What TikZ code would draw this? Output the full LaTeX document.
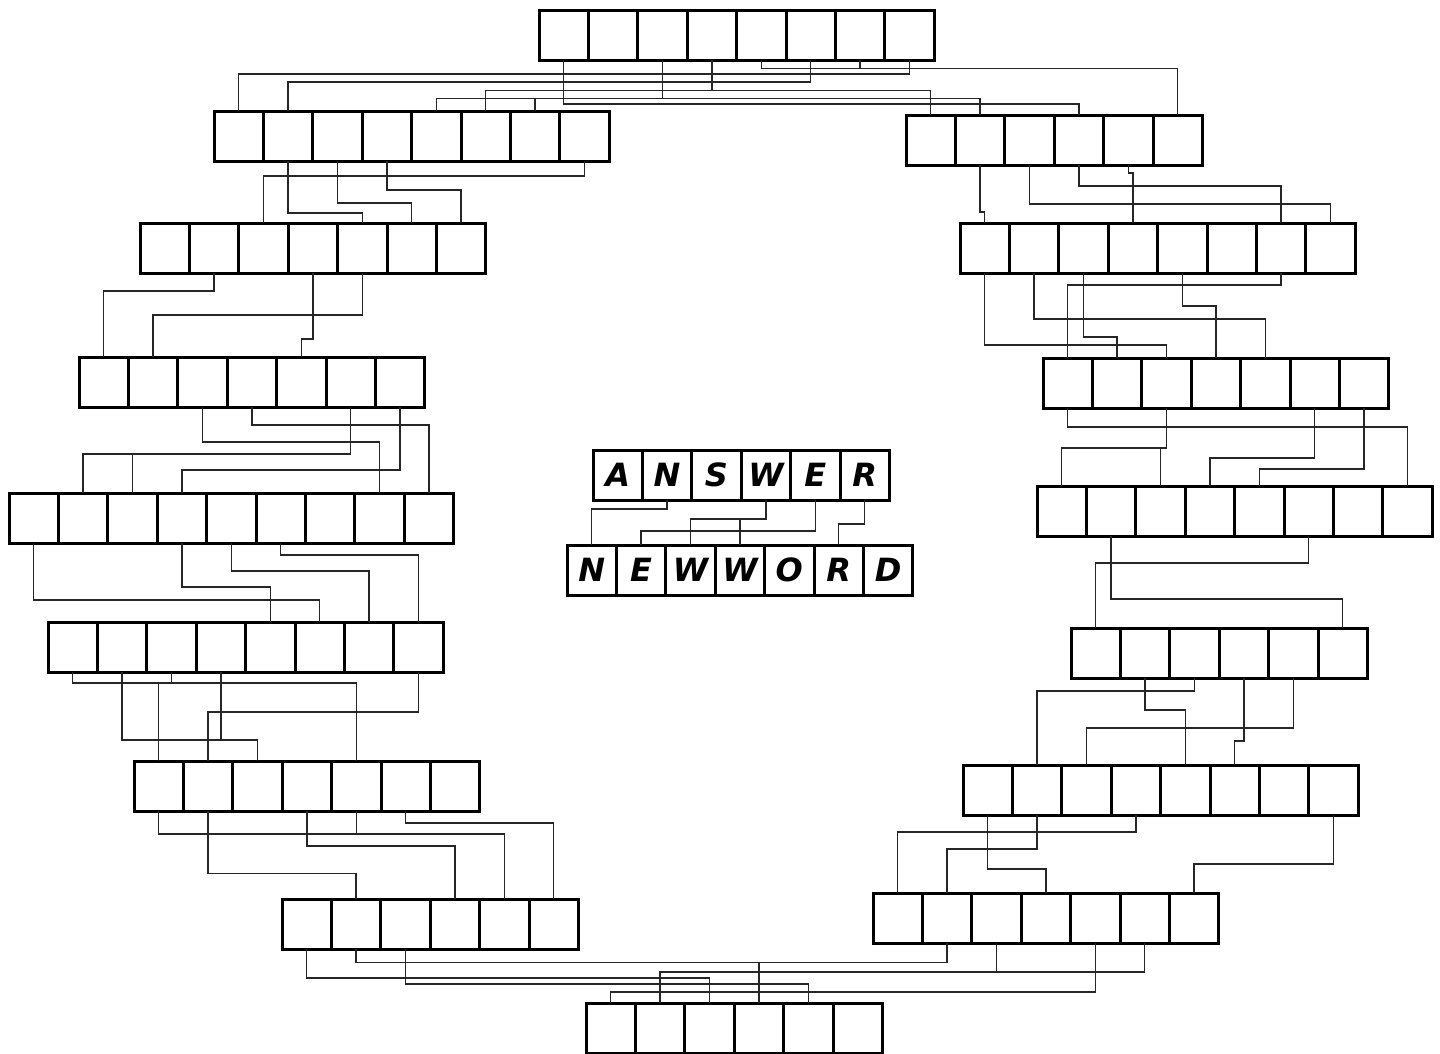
\documentclass[tikz,border=0pt]{standalone}
\usepackage{fontspec}
\newfontfamily\markfont{DejaVu Sans}
\tikzset{
  cell/.style={draw=black, line width=3pt, minimum width=49.4pt, minimum height=50pt, inner sep=0pt, outer sep=0pt, fill=white},
  lettercell/.style={cell, font=\markfont\bfseries\itshape\fontsize{32}{32}\selectfont},
  wire/.style={draw=black!85, line width=1.3pt}
}
\newcommand\cellrow[4]{%
  \foreach \k in {1,...,#4}{%
    \pgfmathtruncatemacro\kk{\k-1}%
    \node[cell] (#1-\kk) at ({#2+24.7+49.4*(\k-1)},{#3+25}) {};}}
\newcommand\wdn[3]{\draw[wire] (#1.south) -- (#1 |- 0,#2) -| (#3.north);}
\newcommand\wst[2]{\draw[wire] (#1.south) -- (#1 |- 0,#2);}
\newcommand\wup[2]{\draw[wire] (#1.north) -- (#1 |- 0,#2);}
\begin{document}
\begin{tikzpicture}[x=1pt,y=-1pt]
\useasboundingbox (0,0) rectangle (1440,1053);
\fill[white] (0,0) rectangle (1440,1053);
% ---------- boxes ----------
\cellrow{T}{539}{10}{8}
\cellrow{L1}{214}{111}{8}
\cellrow{R1}{906}{115}{6}
\cellrow{L2}{140}{223}{7}
\cellrow{R2}{960}{223}{8}
\cellrow{L3}{79}{357}{7}
\cellrow{R3}{1043}{358}{7}
\cellrow{L4}{9}{493}{9}
\cellrow{R4}{1037}{486}{8}
\cellrow{L5}{48}{622}{8}
\cellrow{R5}{1071}{628}{6}
\cellrow{L6}{134}{761}{7}
\cellrow{R6}{963}{765}{8}
\cellrow{L7}{282}{899}{6}
\cellrow{R7}{873}{893}{7}
\cellrow{B}{586}{1003}{6}
\foreach \l [count=\k from 0] in {A,N,S,W,E,R}
  \node[lettercell] (A-\k) at ({593+24.7+49.4*\k},475) {\l};
\foreach \l [count=\k from 0] in {N,E,W,W,O,R,D}
  \node[lettercell] (N-\k) at ({567+24.7+49.4*\k},570) {\l};
% ---------- connectors ----------
% top
\wdn{T-4}{68.7}{R1-5} \wst{T-6}{68.7}
\wdn{T-7}{74}{L1-0}
\wdn{T-5}{82}{L1-1}
\wdn{T-3}{90.3}{L1-5} \wdn{T-3}{90.3}{R1-0}
\draw[wire] (L1-4.north) -- (L1-4 |- 0,98.5) -| (R1-1.north);
\wup{L1-6}{98.5} \wst{T-2}{98.5}
\wdn{T-0}{104}{R1-3}
% L1 -> L2
\wdn{L1-1}{213}{L2-4}
\wdn{L1-2}{203}{L2-5}
\wdn{L1-3}{190}{L2-6}
\wdn{L1-7}{176}{L2-2}
% R1 -> R2
\wdn{R1-1}{212}{R2-0}
\wdn{R1-2}{204}{R2-7}
\wdn{R1-3}{186}{R2-6}
\wdn{R1-4}{173}{R2-3}
% L2 -> L3
\wdn{L2-1}{291}{L3-0}
\wdn{L2-3}{339}{L3-4}
\wdn{L2-4}{315}{L3-1}
% R2 -> R3
\wdn{R2-0}{345}{R3-2}
\wdn{R2-1}{319}{R3-4}
\wdn{R2-2}{337}{R3-1}
\wdn{R2-4}{306}{R3-3}
\wdn{R2-6}{285}{R3-0}
% L3 -> L4
\wdn{L3-2}{442}{L4-7}
\wdn{L3-3}{425}{L4-8}
\wdn{L3-5}{454}{L4-1} \wup{L4-2}{454}
\wdn{L3-6}{470}{L4-3}
% R3 -> R4
\wdn{R3-0}{427}{R4-7}
\wdn{R3-2}{448}{R4-0} \wup{R4-2}{448}
\wdn{R3-5}{458}{R4-3}
\wdn{R3-6}{469}{R4-4}
% ANSWER -> NEWWORD
\wdn{A-1}{509}{N-0}
\wdn{A-3}{519}{N-2} \wup{N-3}{519}
\wdn{A-4}{531}{N-1}
\wdn{A-5}{524}{N-5}
% L4 -> L5
\wdn{L4-0}{600}{L5-5}
\wdn{L4-3}{587}{L5-4}
\wdn{L4-4}{571}{L5-6}
\wdn{L4-5}{555}{L5-7}
% R4 -> R5
\wdn{R4-1}{599}{R5-5}
\wdn{R4-5}{563}{R5-0}
% L5 -> L6
\wdn{L5-0}{683}{L6-4} \wst{L5-2}{683} \wup{L6-0}{683}
\wdn{L5-1}{740}{L6-2} \wst{L5-3}{740}
\wdn{L5-7}{712}{L6-1}
% R5 -> R6
\wdn{R5-2}{691}{R6-1}
\wdn{R5-1}{710}{R6-4}
\wdn{R5-3}{741}{R6-5}
\wdn{R5-4}{728}{R6-2}
% L6 -> L7
\wdn{L6-0}{834}{L7-4} \wst{L6-4}{834}
\wdn{L6-1}{873.5}{L7-1}
\wdn{L6-3}{846}{L7-3}
\wdn{L6-5}{823}{L7-5}
% R6 -> R7
\wdn{R6-0}{869}{R7-3}
\wdn{R6-1}{849}{R7-1}
\wdn{R6-3}{832}{R7-0}
\wdn{R6-7}{864}{R7-6}
% L7 / R7 -> bottom
\wdn{L7-1}{962.5}{B-3} \wdn{R7-1}{962.5}{B-3}
\wdn{L7-0}{978}{B-2}
\wdn{L7-2}{984}{B-4}
\wdn{R7-5}{972}{B-1} \wst{R7-2}{972}
\wdn{R7-4}{992}{B-0}
\end{tikzpicture}
\end{document}
